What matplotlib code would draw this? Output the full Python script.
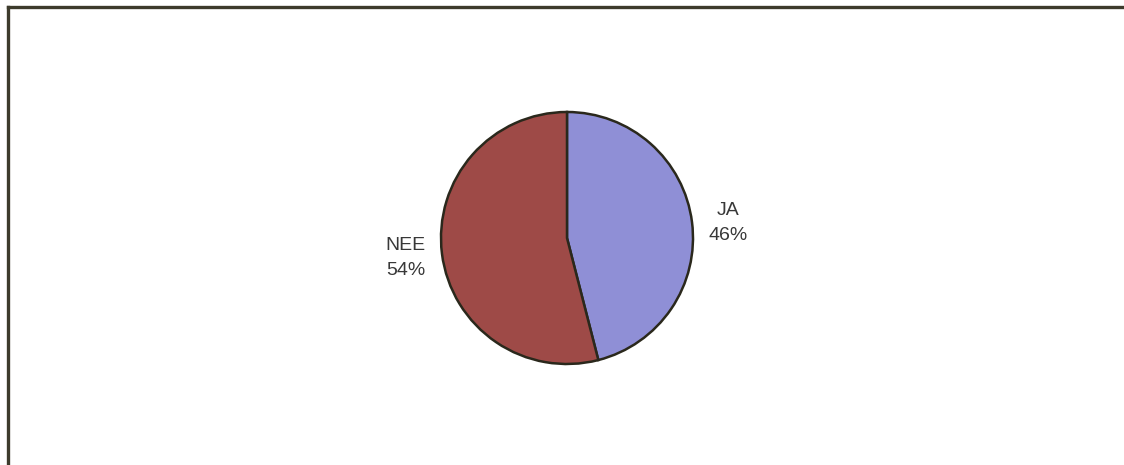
import matplotlib.pyplot as plt
from matplotlib.lines import Line2D

labels = ['JA', 'NEE']
shares = [46, 54]
colors = ['#8f8fd6', '#9e4a47']

fig = plt.figure(figsize=(11.24, 4.65), dpi=100)
ax = fig.add_axes([0, 0, 1, 1])

wedges, texts = ax.pie(shares, labels=[f'{l}\n{v}%' for l, v in zip(labels, shares)],
                       colors=colors, startangle=90, counterclock=False,
                       center=(567, 227), radius=126, labeldistance=1.29,
                       wedgeprops=dict(edgecolor='#2a281c', linewidth=1.8),
                       textprops=dict(fontsize=14, color='#383838',
                                      family=['Liberation Sans', 'DejaVu Sans']),
                       frame=True)
ax.set_xlim(0, 1124)
ax.set_ylim(0, 465)
ax.set_aspect('equal')
ax.axis('off')
for t in texts:
    t.set_ha('center')
    t.set_va('center')
    t.set_multialignment('center')
    t.set_linespacing(1.6)

# JA label sits a little lower than its wedge's mid-angle
x, y = texts[0].get_position()
texts[0].set_position((x, y - 5))

# outer frame (top and left edge visible)
fig.add_artist(Line2D([7.5 / 1124, 1], [1 - 7 / 465, 1 - 7 / 465],
                      transform=fig.transFigure, color='#3d3b2c', lw=2.4))
fig.add_artist(Line2D([7.5 / 1124, 7.5 / 1124], [0, 1 - 7 / 465],
                      transform=fig.transFigure, color='#3d3b2c', lw=2.4))

fig.savefig('out.png', dpi=100)
